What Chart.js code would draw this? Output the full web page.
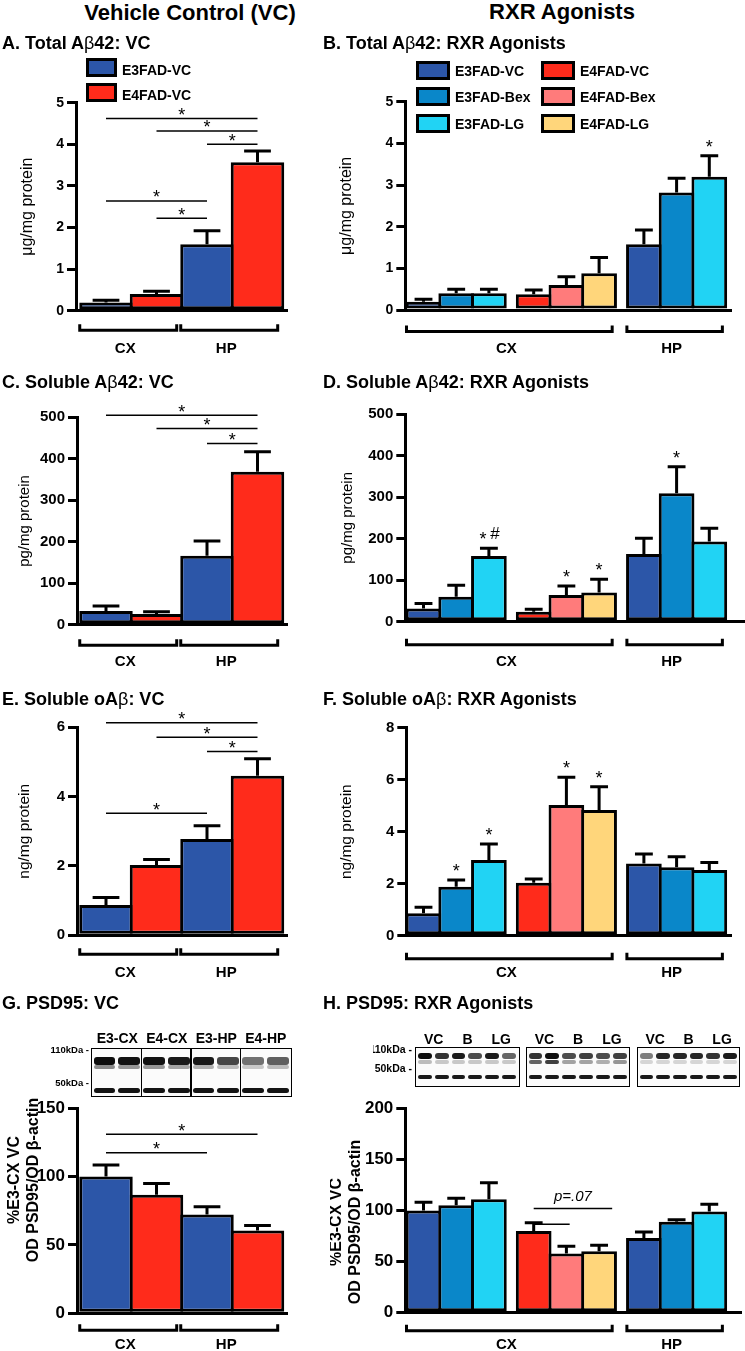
<!DOCTYPE html>
<html><head><meta charset="utf-8"><title>Figure</title>
<script src="https://cdn.jsdelivr.net/npm/chart.js@4.4.1/dist/chart.umd.min.js"></script>
<style>
html,body{margin:0;padding:0;background:#fff;}
body{width:745px;height:1351px;position:relative;overflow:hidden;font-family:"Liberation Sans",Arial,Helvetica,sans-serif;color:#000;}
canvas{position:absolute;}
.t{position:absolute;white-space:nowrap;line-height:1;}
.hdr{font-size:22px;font-weight:bold;transform:translate(-50%,-50%);}
.pt{font-size:18px;font-weight:bold;transform:translateY(-50%);}
.nb{font-weight:normal;}
.lb{position:absolute;box-sizing:border-box;border:3px solid #000;}
.lt{font-size:14px;font-weight:bold;transform:translateY(-50%);}
.blot{position:absolute;box-sizing:border-box;border:1.5px solid #000;background:#fbfbfb;overflow:hidden;}
.band{position:absolute;border-radius:3px;filter:blur(0.7px);}
.dv{position:absolute;top:0;bottom:0;width:1.5px;background:#000;}
.bl{font-size:14px;font-weight:bold;transform:translate(-50%,-50%);}
.mkbox{position:absolute;overflow:hidden;}
.mk{position:absolute;right:0;font-size:9.5px;font-weight:bold;white-space:nowrap;line-height:1;transform:translateY(-50%);}
</style></head><body>
<script>
const FONT = '"Liberation Sans", Arial, Helvetica, sans-serif';

// ---------- groups / categories ----------
const GROUP_COLORS = {
  'E3FAD-VC':'#2C56A8','E3FAD-Bex':'#0A87C9','E3FAD-LG':'#21D3F4',
  'E4FAD-VC':'#FF2B1B','E4FAD-Bex':'#FF7B7B','E4FAD-LG':'#FFD67B'
};
const legendVC = ['E3FAD-VC','E4FAD-VC'];
const legendRXR = ['E3FAD-VC','E3FAD-Bex','E3FAD-LG','E4FAD-VC','E4FAD-Bex','E4FAD-LG'];
const vcBars = ['E3FAD-VC','E4FAD-VC','E3FAD-VC','E4FAD-VC'];
const vcRegions = ['CX','CX','HP','HP'];
const rxrBars = ['E3FAD-VC','E3FAD-Bex','E3FAD-LG','E4FAD-VC','E4FAD-Bex','E4FAD-LG','E3FAD-VC','E3FAD-Bex','E3FAD-LG'];
const rxrRegions = ['CX','CX','CX','CX','CX','CX','HP','HP','HP'];

// ---------- A. Total Abeta42: VC ----------
const totalAb42VC = [0.2, 0.4, 1.6, 3.57];
const totalAb42VCsem = [0.05, 0.07, 0.32, 0.27];
const totalAb42VCsig = [[0,3,4.62],[1,3,4.32],[2,3,4.0],[0,2,2.64],[1,2,2.22]];
const totalAb42Ticks = [0,1,2,3,4,5];
// ---------- B. Total Abeta42: RXR ----------
const totalAb42RXR = [0.2, 0.4, 0.4, 0.38, 0.6, 0.88, 1.58, 2.82, 3.2];
const totalAb42RXRsem = [0.06, 0.1, 0.1, 0.1, 0.2, 0.38, 0.34, 0.34, 0.5];
const totalAb42RXRstars = [8];
// ---------- C. Soluble Abeta42: VC ----------
const solAb42VC = [33, 26, 166, 369];
const solAb42VCsem = [12, 5, 36, 48];
const solAb42VCsig = [[0,3,505],[1,3,473],[2,3,437]];
const solAb42Ticks = [0,100,200,300,400,500];
// ---------- D. Soluble Abeta42: RXR ----------
const solAb42RXR = [32, 60, 158, 24, 64, 70, 163, 309, 193];
const solAb42RXRsem = [12, 28, 19, 6, 22, 32, 38, 64, 32];
const solAb42RXRstars = [2, 4, 5, 7];
const solAb42RXRhash = [2];
// ---------- E. Soluble oAbeta: VC ----------
const oAbVC = [0.875, 2.03, 2.78, 4.6];
const oAbVCsem = [0.215, 0.16, 0.38, 0.49];
const oAbVCsig = [[0,3,6.13],[1,3,5.71],[2,3,5.3],[0,2,3.52]];
const oAbVCTicks = [0,2,4,6];
// ---------- F. Soluble oAbeta: RXR ----------
const oAbRXR = [0.86, 1.88, 2.91, 2.04, 5.03, 4.83, 2.78, 2.63, 2.53];
const oAbRXRsem = [0.23, 0.26, 0.62, 0.14, 1.06, 0.9, 0.36, 0.41, 0.29];
const oAbRXRstars = [1, 2, 4, 5];
const oAbRXRTicks = [0,2,4,6,8];
// ---------- G. PSD95: VC ----------
const psd95VC = [100, 86.7, 72.2, 60.5];
const psd95VCsem = [8.5, 8.3, 5.8, 3.7];
const psd95VCsig = [[0,3,131],[0,2,117.4]];
const psd95VCTicks = [0,50,100,150];
// ---------- H. PSD95: RXR ----------
const psd95RXR = [100, 105, 111, 80, 58, 60, 73, 89, 99];
const psd95RXRsem = [8, 7, 16, 8, 7, 6, 6, 2, 7];
const psd95RXRsig = [[3,5.4,102,'p=.07'],[3,4.1,86.5,'']];
const psd95RXRTicks = [0,50,100,150,200];

// blot lane labels
const gLaneLabels = ['E3-CX','E4-CX','E3-HP','E4-HP'];
const hLaneLabels = ['VC','B','LG'];

const panels = [
  {id:'A', kind:'vc', bars:vcBars, regions:vcRegions, values:totalAb42VC, sem:totalAb42VCsem, sigs:totalAb42VCsig, ticks:totalAb42Ticks, yTitle:'\u03bcg/mg protein'},
  {id:'B', kind:'rxr', bars:rxrBars, regions:rxrRegions, values:totalAb42RXR, sem:totalAb42RXRsem, stars:totalAb42RXRstars, ticks:totalAb42Ticks, yTitle:'\u03bcg/mg protein'},
  {id:'C', kind:'vc', bars:vcBars, regions:vcRegions, values:solAb42VC, sem:solAb42VCsem, sigs:solAb42VCsig, ticks:solAb42Ticks, yTitle:'pg/mg protein'},
  {id:'D', kind:'rxr', bars:rxrBars, regions:rxrRegions, values:solAb42RXR, sem:solAb42RXRsem, stars:solAb42RXRstars, hash:solAb42RXRhash, ticks:solAb42Ticks, yTitle:'pg/mg protein'},
  {id:'E', kind:'vc', bars:vcBars, regions:vcRegions, values:oAbVC, sem:oAbVCsem, sigs:oAbVCsig, ticks:oAbVCTicks, yTitle:'ng/mg protein'},
  {id:'F', kind:'rxr', bars:rxrBars, regions:rxrRegions, values:oAbRXR, sem:oAbRXRsem, stars:oAbRXRstars, ticks:oAbRXRTicks, yTitle:'ng/mg protein'},
  {id:'G', kind:'vc', bars:vcBars, regions:vcRegions, values:psd95VC, sem:psd95VCsem, sigs:psd95VCsig, ticks:psd95VCTicks, yTitle:['%E3-CX VC','OD PSD95/OD \u03b2-actin']},
  {id:'H', kind:'rxr', bars:rxrBars, regions:rxrRegions, values:psd95RXR, sem:psd95RXRsem, sigs:psd95RXRsig, ticks:psd95RXRTicks, yTitle:['%E3-CX VC','OD PSD95/OD \u03b2-actin']}
];

// ---------- layout (pixels) ----------
const VC_GEO = {bar0:106, pitch:50.5, gap:0};
const RXR_GEO = {bar0:423.5, pitch:32.7, gap:0.37};
const LAYOUT = {
  A:{rect:[0,45,330,320], axisX:76, right:287, yTop:102.7, yBot:310.7, titleX:28, tickSize:14, tSize:16, tW:'normal', tLH:1.2, brDy:19.5, lbDy:38.5},
  B:{rect:[330,45,415,320], axisX:405.3, right:731, yTop:101.7, yBot:310, titleX:347, tickSize:14, tSize:16, tW:'normal', tLH:1.2, brDy:21.5, lbDy:38.5},
  C:{rect:[0,390,330,290], axisX:77, right:287, yTop:417.3, yBot:624.7, titleX:25, tickSize:15, tSize:15, tW:'normal', tLH:1.2, brDy:20.5, lbDy:37.5},
  D:{rect:[330,390,415,290], axisX:405.3, right:744, yTop:414, yBot:621.7, titleX:348, tickSize:15, tSize:15, tW:'normal', tLH:1.2, brDy:23, lbDy:40},
  E:{rect:[0,705,330,295], axisX:77, right:287, yTop:727.3, yBot:935.3, titleX:25, tickSize:15, tSize:15.5, tW:'normal', tLH:1.2, brDy:19, lbDy:38},
  F:{rect:[330,705,415,295], axisX:406.3, right:731, yTop:727.7, yBot:935.7, titleX:347, tickSize:15, tSize:15.5, tW:'normal', tLH:1.2, brDy:23, lbDy:37.5},
  G:{rect:[0,1095,330,256], axisX:77, right:287, yTop:1107, yBot:1313.3, titleX:15, titleCY:1180, tickSize:17, tSize:16, tW:'bold', tLH:1.15, brDy:17, lbDy:32},
  H:{rect:[330,1095,415,256], axisX:405.3, right:741, yTop:1106, yBot:1312.7, titleX:337, titleCY:1222, tickSize:17, tSize:16, tW:'bold', tLH:1.15, brDy:18, lbDy:32.5}
};

function xPos(kind, i){ const g = kind==='vc' ? VC_GEO : RXR_GEO; return i + g.gap*Math.floor(i/3); }
function xAt(kind, f){ const b = Math.floor(f); return xPos(kind,b) + (f-b); }

function regionGroups(regions){
  const out=[]; regions.forEach((r,i)=>{ const last=out[out.length-1]; if(last && last.label===r) last.to=i; else out.push({label:r, from:i, to:i}); }); return out;
}

function annotator(p, L){
  return {
    id:'ann'+p.id,
    afterDatasetsDraw(chart){
      const ctx=chart.ctx, xs=chart.scales.x, ys=chart.scales.y;
      const meta=chart.getDatasetMeta(0);
      const base=chart.chartArea.bottom;
      ctx.save();
      ctx.strokeStyle='#000'; ctx.fillStyle='#000'; ctx.lineCap='butt';
      // error bars (upper SEM)
      ctx.lineWidth=3;
      p.values.forEach((v,i)=>{
        const el=meta.data[i];
        const yv=ys.getPixelForValue(v), ye=ys.getPixelForValue(v+p.sem[i]);
        const half=el.width*0.25;
        ctx.beginPath(); ctx.moveTo(el.x,yv); ctx.lineTo(el.x,ye);
        ctx.moveTo(el.x-half,ye); ctx.lineTo(el.x+half,ye); ctx.stroke();
      });
      // significance lines
      ctx.lineWidth=1.5;
      (p.sigs||[]).forEach(s=>{
        const x1=xs.getPixelForValue(xAt(p.kind,s[0])), x2=xs.getPixelForValue(xAt(p.kind,s[1])), y=ys.getPixelForValue(s[2]);
        ctx.beginPath(); ctx.moveTo(x1,y); ctx.lineTo(x2,y); ctx.stroke();
        const lab = s.length>3 ? s[3] : '*';
        if(lab==='*'){
          ctx.font='18px '+FONT; ctx.textAlign='center'; ctx.textBaseline='alphabetic';
          ctx.fillText('*',(x1+x2)/2,y+2.5);
        } else if(lab){
          ctx.font='italic 15px '+FONT; ctx.textAlign='center'; ctx.textBaseline='alphabetic';
          ctx.fillText(lab,(x1+x2)/2,y-7);
        }
      });
      // stars above bars
      ctx.textAlign='center'; ctx.textBaseline='alphabetic';
      (p.stars||[]).forEach(i=>{
        const el=meta.data[i]; const yc=ys.getPixelForValue(p.values[i]+p.sem[i]);
        const hasHash=(p.hash||[]).includes(i);
        ctx.font='18px '+FONT; ctx.fillText('*', el.x-(hasHash?6:0), yc-3);
        if(hasHash){ ctx.font='17px '+FONT; ctx.fillText('#', el.x+6, yc-9); }
      });
      // brackets + region labels
      ctx.lineWidth=3; ctx.lineJoin='miter';
      regionGroups(p.regions).forEach(g=>{
        const x1=xs.getPixelForValue(xPos(p.kind,g.from)-0.52), x2=xs.getPixelForValue(xPos(p.kind,g.to)+0.4);
        const y=base+L.brDy;
        ctx.beginPath(); ctx.moveTo(x1,y-6); ctx.lineTo(x1,y); ctx.lineTo(x2,y); ctx.lineTo(x2,y-6); ctx.stroke();
        ctx.font='bold 15px '+FONT; ctx.textBaseline='middle'; ctx.textAlign='center';
        ctx.fillText(g.label,(x1+x2)/2-3,base+L.lbDy);
      });
      // custom-placed multi-line axis title (G/H)
      if(L.titleCY){
        const lines=p.yTitle, lh=L.tSize*L.tLH;
        ctx.font='bold '+L.tSize+'px '+FONT; ctx.textAlign='center'; ctx.textBaseline='middle';
        lines.forEach((t,k)=>{
          ctx.save(); ctx.translate(L.titleX-L.rect[0]+k*lh, L.titleCY-L.rect[1]); ctx.rotate(-Math.PI/2);
          ctx.fillText(t,0,0); ctx.restore();
        });
      }
      ctx.restore();
    }
  };
}

function buildPanel(p){
  const L=LAYOUT[p.id];
  const [cl,ct,cw,ch]=L.rect;
  const cv=document.createElement('canvas');
  cv.width=cw; cv.height=ch;
  Object.assign(cv.style,{left:cl+'px',top:ct+'px',width:cw+'px',height:ch+'px'});
  document.body.appendChild(cv);
  const geo = p.kind==='vc'?VC_GEO:RXR_GEO;
  const xmin=-(geo.bar0-L.axisX)/geo.pitch;
  const xmax=(L.right-geo.bar0)/geo.pitch;
  const lh=L.tSize*L.tLH;
  const W=L.axisX-L.titleX+lh/2;
  const pad={left:L.axisX-cl-W, top:L.yTop-ct, right:cl+cw-L.right, bottom:ct+ch-L.yBot};
  new Chart(cv,{
    type:'bar',
    data:{datasets:[{
      data:p.values.map((v,i)=>({x:xPos(p.kind,i), y:v})),
      backgroundColor:p.bars.map(b=>GROUP_COLORS[b]),
      borderColor:'#000', borderWidth:3, borderSkipped:false,
      barPercentage:(geo.pitch+3)/geo.pitch, categoryPercentage:1
    }]},
    options:{
      responsive:false, animation:false, devicePixelRatio:1, events:[],
      layout:{padding:pad},
      plugins:{legend:{display:false}, tooltip:{enabled:false}, title:{display:false}},
      scales:{
        x:{type:'linear', min:xmin, max:xmax, offset:false,
           afterBuildTicks:s=>{ s.ticks=[{value:s.min},{value:s.max}]; },
           afterFit:s=>{ s.height=0; },
           grid:{display:false, drawTicks:false, offset:false},
           ticks:{display:false},
           border:{display:true, width:3, color:'#000'}},
        y:{type:'linear', min:0, max:p.ticks[p.ticks.length-1],
           afterBuildTicks:s=>{ s.ticks=p.ticks.map(v=>({value:v})); },
           afterFit:s=>{ s.width=W; },
           grid:{display:true, drawOnChartArea:false, drawTicks:true, tickLength:9, tickWidth:3, tickColor:'#000', color:'#000', lineWidth:3, offset:false},
           border:{display:true, width:3, color:'#000'},
           ticks:{color:'#000', padding:3, font:{family:FONT, size:L.tickSize, weight:'bold'}, callback:v=>String(v)},
           title:{display:!L.titleCY, text:p.yTitle, color:'#000', padding:{top:0,bottom:0}, font:{family:FONT, size:L.tSize, weight:L.tW, lineHeight:L.tLH}}}
      }
    },
    plugins:[annotator(p,L)]
  });
}
panels.forEach(buildPanel);

// ---------- HTML text overlays ----------
function addEl(cls, styles, html){
  const d=document.createElement('div'); d.className=cls; Object.assign(d.style,styles); if(html!==undefined) d.innerHTML=html; document.body.appendChild(d); return d;
}
const B='<span class="nb">\u03b2</span>';
addEl('t hdr',{left:'190px',top:'13px'},'Vehicle Control (VC)');
addEl('t hdr',{left:'562px',top:'12px'},'RXR Agonists');
const titles=[
  ['A. Total A'+B+'42: VC',2,43],['B. Total A'+B+'42: RXR Agonists',323,43],
  ['C. Soluble A'+B+'42: VC',2,381.7],['D. Soluble A'+B+'42: RXR Agonists',323,381.7],
  ['E. Soluble oA'+B+': VC',2,699.3],['F. Soluble oA'+B+': RXR Agonists',323,699.3],
  ['G. PSD95: VC',2,1003.3],['H. PSD95: RXR Agonists',323,1003.3]
];
titles.forEach(([t,x,y])=>addEl('t pt',{left:x+'px',top:y+'px'},t));

// legends
legendVC.forEach((g,k)=>{
  const top=58+k*25;
  addEl('lb',{left:'86px',top:top+'px',width:'31px',height:'19px',background:GROUP_COLORS[g]});
  addEl('t lt',{left:'122px',top:(top+11.5)+'px'},g);
});
legendRXR.forEach((g,k)=>{
  const col=Math.floor(k/3), row=k%3;
  const top=[60.5,86.5,113.5][row];
  const bx=col===0?416:541, tx=col===0?455:580;
  addEl('lb',{left:bx+'px',top:top+'px',width:'34px',height:'19px',background:GROUP_COLORS[g]});
  addEl('t lt',{left:tx+'px',top:(top+10.5)+'px'},g);
});

// ---------- western blot insets ----------
function blot(left, top, width, height, nSeg, lanesPerSeg, bands, dividers){
  const box=addEl('blot',{left:left+'px',top:top+'px',width:width+'px',height:height+'px'});
  const inner=width-3, segW=inner/nSeg, laneW=segW/lanesPerSeg;
  bands.forEach(b=>{
    for(let s=0;s<nSeg;s++) for(let l=0;l<lanesPerSeg;l++){
      const idx=s*lanesPerSeg+l;
      const a=b.alpha[idx%b.alpha.length];
      const d=document.createElement('div'); d.className='band';
      Object.assign(d.style,{left:(s*segW+l*laneW+1.5)+'px',width:(laneW-3)+'px',top:b.top+'px',height:b.h+'px',background:'rgba(0,0,0,'+a+')'});
      box.appendChild(d);
    }
  });
  if(dividers){ for(let s=1;s<nSeg;s++){ const d=document.createElement('div'); d.className='dv'; d.style.left=(s*segW-0.75)+'px'; box.appendChild(d);} }
  return box;
}
// G blot
blot(91,1048,201,49,4,2,[
  {top:7.5,h:8,alpha:[0.95,0.93,0.93,0.9,0.9,0.72,0.55,0.62]},
  {top:16,h:4,alpha:[0.45,0.4,0.4,0.35,0.3,0.25,0.2,0.25]},
  {top:38.5,h:5,alpha:[0.92]}
],true);
gLaneLabels.forEach((t,k)=>addEl('t bl',{left:(92.5+(k+0.5)*49.5)+'px',top:'1038px'},t));
const gmk=addEl('mkbox',{left:'40px',top:'1040px',width:'49px',height:'52px'});
gmk.innerHTML='<div class="mk" style="top:10px">110kDa -</div><div class="mk" style="top:43px">50kDa -</div>';
// H blots
const hBoxes=[[415.3,104.4],[526,104.3],[637,103.3]];
const hPsd=[[0.95,0.8,0.9,0.7,0.9,0.6],[0.8,0.95,0.7,0.75,0.7,0.75],[0.5,0.85,0.85,0.85,0.8,0.9]];
const hFaint=[[0.25,0.2,0.2,0.2,0.2,0.2],[0.6,0.75,0.35,0.35,0.3,0.4],[0.15,0.15,0.15,0.15,0.15,0.15]];
hBoxes.forEach(([x,w],k)=>{
  blot(x,1046.7,w,40,3,2,[
    {top:5.5,h:6,alpha:hPsd[k]},
    {top:12,h:4,alpha:hFaint[k]},
    {top:27,h:4.5,alpha:[0.9]}
  ],false);
  hLaneLabels.forEach((t,j)=>addEl('t bl',{left:(x+1.5+(j+0.5)*(w-3)/3)+'px',top:'1039px'},t));
});
const hmk=addEl('mkbox',{left:'373px',top:'1040px',width:'39px',height:'36px'});
hmk.innerHTML='<div class="mk" style="top:9px;font-size:10.5px;right:-0px">110kDa -</div><div class="mk" style="top:27.7px;font-size:10.5px">50kDa -</div>';
</script>
</body></html>
